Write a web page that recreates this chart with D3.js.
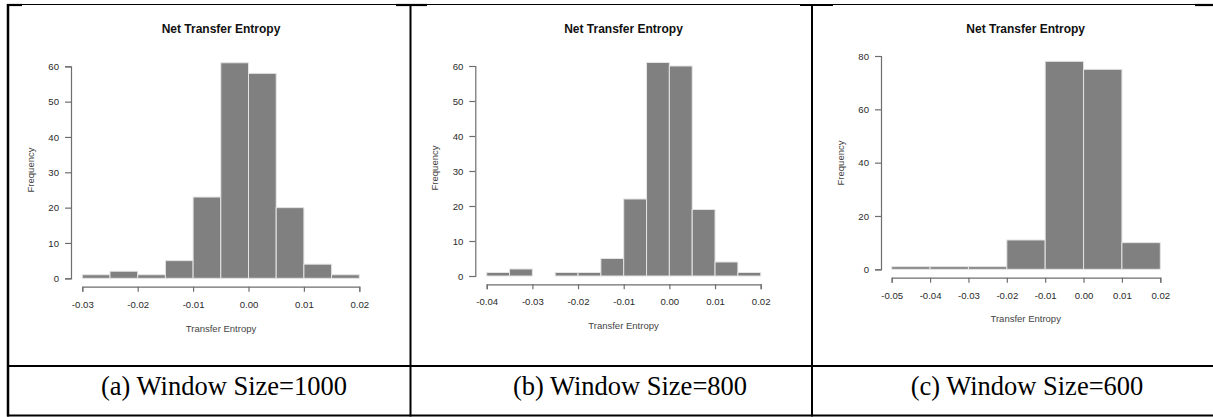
<!DOCTYPE html>
<html><head><meta charset="utf-8">
<script src="https://cdn.jsdelivr.net/npm/d3@7"></script>
<style>html,body{margin:0;padding:0;background:#fff;}svg{display:block;}</style>
</head><body>
<script>
// ---- data ----
const titles = ["Net Transfer Entropy", "Net Transfer Entropy", "Net Transfer Entropy"];
const captions = ["(a) Window Size=1000", "(b) Window Size=800", "(c) Window Size=600"];
const xLabel = "Transfer Entropy";
const yLabel = "Frequency";

const edgesA = [-0.03, -0.025, -0.02, -0.015, -0.01, -0.005, 0, 0.005, 0.01, 0.015, 0.02];
const countsA = [1, 2, 1, 5, 23, 61, 58, 20, 4, 1];
const xTicksA = [-0.03, -0.02, -0.01, 0.00, 0.01, 0.02];
const yTicksA = [0, 10, 20, 30, 40, 50, 60];

const edgesB = [-0.04, -0.035, -0.03, -0.025, -0.02, -0.015, -0.01, -0.005, 0, 0.005, 0.01, 0.015, 0.02];
const countsB = [1, 2, 0, 1, 1, 5, 22, 61, 60, 19, 4, 1];
const xTicksB = [-0.04, -0.03, -0.02, -0.01, 0.00, 0.01, 0.02];
const yTicksB = [0, 10, 20, 30, 40, 50, 60];

const edgesC = [-0.05, -0.04, -0.03, -0.02, -0.01, 0, 0.01, 0.02];
const countsC = [1, 1, 1, 11, 78, 75, 10];
const xTicksC = [-0.05, -0.04, -0.03, -0.02, -0.01, 0.00, 0.01, 0.02];
const yTicksC = [0, 20, 40, 60, 80];

// ---- layout ----
const W = 1213, H = 417;
const svg = d3.select("body").append("svg").attr("width", W).attr("height", H);
const sans = "'Liberation Sans', Arial, sans-serif";
const serif = "'Liberation Serif', 'Times New Roman', serif";

const panels = [
  {edges: edgesA, counts: countsA, xt: xTicksA, yt: yTicksA, xr: [82.3, 359.3], yr: [278.3, 66.3],
   yAxisX: 71, xAxisY: 286.7, titleX: 221, titleY: 33, xlabY: 332, ylab: [30.7, 170], capX: 224},
  {edges: edgesB, counts: countsB, xt: xTicksB, yt: yTicksB, xr: [486.7, 760.7], yr: [276, 66],
   yAxisX: 475.3, xAxisY: 284.3, titleX: 623.5, titleY: 33, xlabY: 329, ylab: [434.5, 168], capX: 630},
  {edges: edgesC, counts: countsC, xt: xTicksC, yt: yTicksC, xr: [891.7, 1160.3], yr: [269.3, 56],
   yAxisX: 881, xAxisY: 277.7, titleX: 1025.7, titleY: 32.7, xlabY: 321.7, ylab: [840.5, 163], capX: 1027}
];

const fmt = d => d3.format(".2f")(d).replace("\u2212", "-");

panels.forEach((p, i) => {
  const g = svg.append("g");
  const x = d3.scaleLinear().domain(d3.extent(p.edges)).range(p.xr);
  const y = d3.scaleLinear().domain(d3.extent(p.yt)).range(p.yr);
  const bins = p.counts.map((c, k) => ({x0: p.edges[k], x1: p.edges[k + 1], c}));

  g.selectAll("rect.bar").data(bins.filter(b => b.c > 0)).join("rect")
    .attr("class", "bar")
    .attr("x", b => x(b.x0))
    .attr("width", b => x(b.x1) - x(b.x0))
    .attr("y", b => y(b.c))
    .attr("height", b => y(0) - y(b.c))
    .attr("fill", "#808080")
    .attr("stroke", "#e4e4e4")
    .attr("stroke-width", 1);

  const ya = g.append("g").attr("transform", `translate(${p.yAxisX},0)`)
    .call(d3.axisLeft(y).tickValues(p.yt).tickFormat(d3.format("d")).tickSizeOuter(0).tickSize(6).tickPadding(6));
  const xa = g.append("g").attr("transform", `translate(0,${p.xAxisY})`)
    .call(d3.axisBottom(x).tickValues(p.xt).tickFormat(fmt).tickSizeOuter(0).tickSize(5).tickPadding(9));
  [ya, xa].forEach(a => {
    a.select(".domain").attr("stroke", "#6e6e6e").attr("stroke-width", 1.2);
    a.selectAll(".tick line").attr("stroke", "#6e6e6e").attr("stroke-width", 1.2);
    a.selectAll(".tick text").attr("fill", "#2a2a2a").style("font-family", sans).style("font-size", "9.6px");
  });

  g.append("text").attr("x", p.titleX).attr("y", p.titleY).attr("text-anchor", "middle")
    .style("font-family", sans).style("font-size", "12px").style("font-weight", "bold").attr("fill", "#111")
    .text(titles[i]);
  g.append("text").attr("x", p.titleX).attr("y", p.xlabY).attr("text-anchor", "middle")
    .style("font-family", sans).style("font-size", "9.5px").attr("fill", "#444")
    .text(xLabel);
  g.append("text").attr("transform", `translate(${p.ylab[0] + 3.3},${p.ylab[1]}) rotate(-90)`)
    .attr("text-anchor", "middle")
    .style("font-family", sans).style("font-size", "9.5px").attr("fill", "#444")
    .text(yLabel);

  svg.append("text").attr("x", p.capX).attr("y", 395).attr("text-anchor", "middle")
    .style("font-family", serif).style("font-size", "26.5px").attr("fill", "#000")
    .text(captions[i]);
});

// ---- table borders ----
const line = (x1, y1, x2, y2, w) => svg.append("line").attr("x1", x1).attr("y1", y1).attr("x2", x2).attr("y2", y2)
  .attr("stroke", "#000").attr("stroke-width", w);
line(7, 4.5, W, 4.5, 1.2);
[[7, 22], [396, 427], [800, 833], [1195, W]].forEach(s => line(s[0], 5, s[1], 5, 2.2));
line(8, 4, 8, 416.5, 2.5);
line(410.5, 4, 410.5, 416.5, 2);
line(812, 4, 812, 416.5, 2);
line(7, 366, W, 366, 2);
line(7, 415.5, W, 415.5, 2);
</script>
</body></html>
